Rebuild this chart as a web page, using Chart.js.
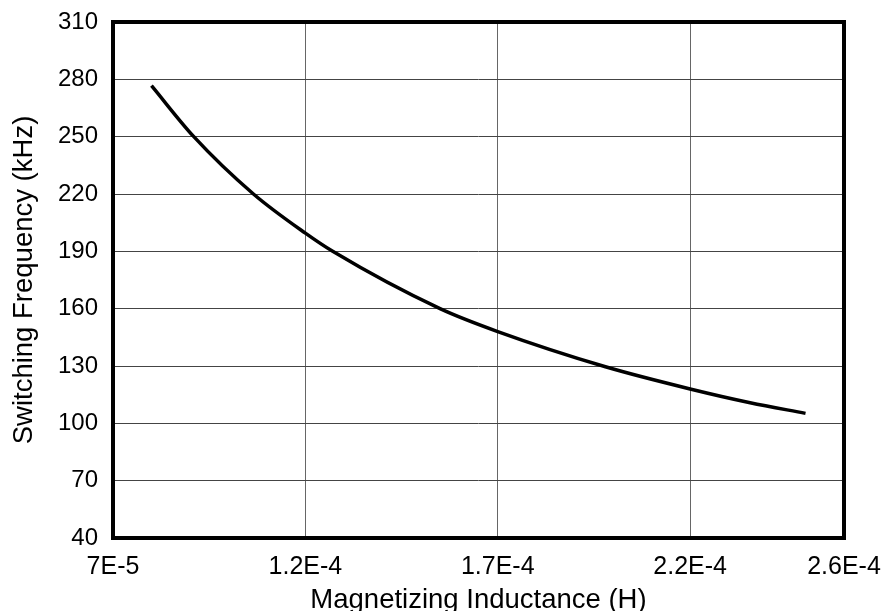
<!DOCTYPE html>
<html>
<head>
<meta charset="utf-8">
<script src="https://cdn.jsdelivr.net/npm/chart.js@4/dist/chart.umd.min.js"></script>
<style>
  html, body { margin: 0; padding: 0; background: #fff; }
  #box { width: 885px; height: 611px; }
</style>
</head>
<body>
<div id="box"><canvas id="grafico"></canvas></div>
<script>
// Dados
const indutancia = [8.0e-5, 9.1e-5, 1.065e-4, 1.2e-4, 1.271e-4, 1.55e-4, 1.7e-4, 1.98e-4, 2.2e-4, 2.356e-4, 2.5e-4];
const frequencia = [276.7, 250, 220, 199.5, 190, 160, 148, 129.6, 118, 110.8, 105.2];

const ticksX = [7e-5, 1.2e-4, 1.7e-4, 2.2e-4, 2.6e-4];
const rotulosX = ['7E-5', '1.2E-4', '1.7E-4', '2.2E-4', '2.6E-4'];
const ticksY = [40, 70, 100, 130, 160, 190, 220, 250, 280, 310];

const fonte = 'Arial, "Liberation Sans", Helvetica, sans-serif';

// Moldura preta em volta da área do gráfico
const moldura = {
    id: 'moldura',
    afterDraw(chart) {
        const a = chart.chartArea;
        const ctx = chart.ctx;
        ctx.save();
        ctx.strokeStyle = '#000';
        ctx.lineWidth = 4;
        ctx.strokeRect(a.left, a.top, a.right - a.left, a.bottom - a.top);
        ctx.restore();
    }
};

// Zera o espaço extra que o Chart.js reserva para os rótulos
function semPadding(axis) {
    axis.paddingTop = 0;
    axis.paddingBottom = 0;
    axis.paddingLeft = 0;
    axis.paddingRight = 0;
}

new Chart(document.getElementById('grafico'), {
    type: 'line',
    data: {
        datasets: [{
            data: indutancia.map((x, i) => ({ x: x, y: frequencia[i] })),
            borderColor: '#000',
            borderWidth: 3.5,
            pointRadius: 0,
            cubicInterpolationMode: 'monotone',
            fill: false
        }]
    },
    options: {
        responsive: true,
        maintainAspectRatio: false,
        animation: false,
        layout: { padding: { left: 0, right: 41, top: 22, bottom: 0 } },
        plugins: {
            legend: { display: false },
            tooltip: { enabled: false }
        },
        scales: {
            x: {
                type: 'linear',
                min: 7e-5,
                max: 2.6e-4,
                afterBuildTicks: axis => { axis.ticks = ticksX.map(v => ({ value: v })); },
                afterFit: axis => { axis.height = 73; semPadding(axis); },
                grid: { color: '#666', lineWidth: 1, drawTicks: false },
                border: { display: false },
                ticks: {
                    padding: 14,
                    color: '#000',
                    font: { family: fonte, size: 25 },
                    maxRotation: 0,
                    autoSkip: false,
                    callback: (v) => {
                        const i = ticksX.findIndex(t => Math.abs(t - v) < 1e-9);
                        return i >= 0 ? rotulosX[i] : '';
                    }
                },
                title: {
                    display: true,
                    text: 'Magnetizing Inductance (H)',
                    color: '#000',
                    font: { family: fonte, size: 27.5 },
                    padding: { top: 0, bottom: -6 }
                }
            },
            y: {
                min: 40,
                max: 310,
                afterBuildTicks: axis => { axis.ticks = ticksY.map(v => ({ value: v })); },
                afterFit: axis => { axis.width = 113; semPadding(axis); },
                grid: { color: '#444', lineWidth: 1, drawTicks: false },
                border: { display: false },
                ticks: {
                    padding: 15,
                    color: '#000',
                    autoSkip: false,
                    font: { family: fonte, size: 24 }
                },
                title: {
                    display: true,
                    text: 'Switching Frequency (kHz)',
                    color: '#000',
                    font: { family: fonte, size: 27.5 },
                    padding: { top: 8, bottom: 0 }
                }
            }
        }
    },
    plugins: [moldura]
});
</script>
</body>
</html>
